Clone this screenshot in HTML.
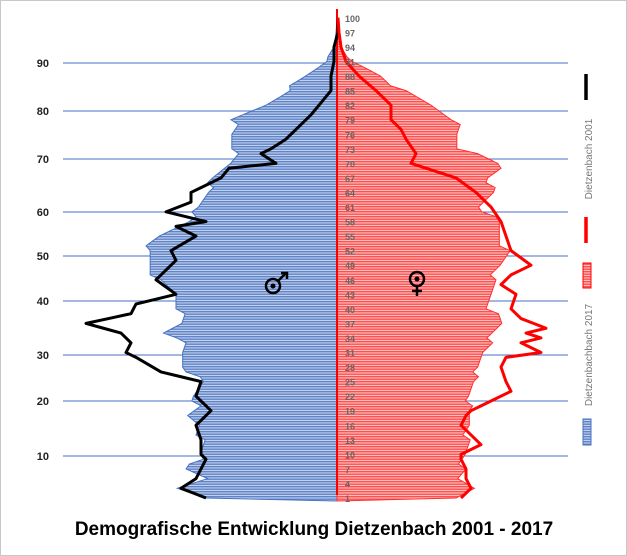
<!DOCTYPE html>
<html><head><meta charset="utf-8"><style>
body{margin:0;background:#fff}
#w{position:relative;width:625px;height:554px;border:1px solid #c8c8c8;overflow:hidden;font-family:"Liberation Sans",sans-serif}
</style></head><body><div id="w">
<svg id="s" width="625" height="554" xmlns="http://www.w3.org/2000/svg">
<defs>
<pattern id="pb" width="4" height="2.5" patternUnits="userSpaceOnUse"><rect width="4" height="2.5" fill="#c3d1ec"/><rect width="4" height="1.4" fill="#5f84c8"/></pattern>
<pattern id="pr" width="4" height="2.5" patternUnits="userSpaceOnUse"><rect width="4" height="2.5" fill="#ffc0c0"/><rect width="4" height="1.4" fill="#ff5050"/></pattern>
</defs>
<g id="grid" stroke="#4472c4" stroke-width="1"></g>
<g id="lab" font-size="11" font-weight="bold" fill="#222"></g>
<g id="pl"></g>
<g id="al" font-size="9" font-weight="bold" fill="#666"></g>
<g stroke="#000" stroke-width="2.5" fill="none">
<circle cx="272" cy="285" r="7"/><path d="M277 280 L284 273 M280 272 L286 272 L286 278"/>
<circle cx="416" cy="278" r="7"/><path d="M416 285 L416 295 M411 290 L421 290"/>
</g>
<circle cx="272" cy="285" r="2.5" fill="#000"/><circle cx="416" cy="278" r="2.5" fill="#000"/>
<line x1="585" y1="73" x2="585" y2="99" stroke="#000" stroke-width="3.5"/>
<text transform="translate(591,158) rotate(-90)" font-size="10" fill="#777" text-anchor="middle">Dietzenbach 2001</text>
<line x1="585" y1="216" x2="585" y2="242" stroke="#f00" stroke-width="3.5"/>
<rect x="582" y="262" width="8" height="25" fill="url(#pr)" stroke="#f00"/>
<text transform="translate(591,354) rotate(-90)" font-size="10" fill="#777" text-anchor="middle">Dietzenbachbach 2017</text>
<rect x="582" y="418" width="8" height="26" fill="url(#pb)" stroke="#4472c4"/>
<text x="313" y="534" font-size="19" font-weight="bold" text-anchor="middle" fill="#000">Demografische Entwicklung Dietzenbach 2001 - 2017</text>
</svg></div>
<script>
var NS="http://www.w3.org/2000/svg";
function Y(a){return 497-(a-1)*4.85;}
function interp(pts){var r=[];for(var a=1;a<=100;a++){var i=0;while(i<pts.length-2&&pts[i+1][0]<a)i++;var p=pts[i],q=pts[i+1];var t=(a-p[0])/(q[0]-p[0]);t=Math.max(0,Math.min(1,t));r.push(p[1]+(q[1]-p[1])*t);}return r;}
function jag(arr,amp,dir){return arr.map(function(v,i){var d=Math.abs(v-336);var j=((i*7919)%13-6)/6*amp*Math.min(1,d/60);return v+j;});}
var blue=jag(interp([[1,210],[3,178],[5,205],[7,180],[9,205],[10,200],[13,200],[16,200],[18,185],[20,195],[22,195],[25,200],[28,185],[31,180],[34,180],[35,165],[37,180],[40,180],[43,175],[46,155],[49,150],[52,145],[55,160],[58,185],[61,200],[64,205],[67,215],[70,228],[73,235],[76,230],[79,235],[82,265],[85,285],[88,305],[91,325],[94,333],[97,335],[100,336]]),5);
var red=jag(interp([[1,460],[3,475],[5,455],[7,460],[10,465],[13,465],[16,470],[19,465],[22,470],[25,470],[28,480],[31,480],[34,490],[37,500],[40,490],[43,490],[46,490],[49,500],[52,505],[55,500],[58,495],[61,480],[64,490],[67,490],[69,500],[70,495],[73,460],[76,455],[79,455],[82,430],[85,400],[88,380],[91,350],[94,340],[97,338],[100,337]]),5);
var bl=interp([[1,205],[3,180],[5,195],[7,200],[9,205],[10,200],[13,200],[16,195],[19,210],[22,195],[25,200],[27,160],[30,135],[31,125],[33,130],[35,120],[37,85],[39,130],[41,135],[43,175],[46,155],[48,165],[50,175],[52,170],[55,195],[57,175],[58,205],[60,165],[62,190],[64,190],[67,220],[69,228],[70,275],[72,260],[73,270],[75,285],[78,300],[80,310],[82,318],[85,330],[88,330],[91,333],[94,333],[97,337],[100,337]]);
var rl=interp([[1,460],[3,470],[5,465],[7,465],[9,460],[10,460],[12,480],[14,470],[16,460],[18,465],[19,470],[21,490],[23,510],[25,505],[28,500],[30,505],[31,540],[33,520],[34,540],[35,525],[36,545],[38,520],[40,510],[43,515],[45,500],[47,510],[49,530],[52,510],[55,505],[58,500],[61,490],[64,475],[67,455],[70,410],[72,415],[75,405],[77,400],[79,390],[82,390],[85,375],[88,358],[91,345],[94,340],[97,338],[100,337]]);
function el(t,at,p){var e=document.createElementNS(NS,t);for(var k in at)e.setAttribute(k,at[k]);document.getElementById(p).appendChild(e);return e;}
[[10,455],[20,400],[30,354],[40,300],[50,255],[60,211],[70,158],[80,110],[90,62]].forEach(function(g){el("line",{x1:62,x2:567,y1:g[1],y2:g[1]},"grid");var t=el("text",{x:48,y:g[1]+4,"text-anchor":"end"},"lab");t.textContent=g[0];});
function poly(arr,fill,stroke){var p="336,"+(Y(1)+3)+" ";for(var i=0;i<100;i++){p+=arr[i]+","+Y(i+1)+" ";}p+="336,"+(Y(100)-2);el("polygon",{points:p,fill:fill,stroke:stroke,"stroke-width":1},"pl");}
poly(blue,"url(#pb)","#4472c4");poly(red,"url(#pr)","#ff3030");
el("line",{x1:336,x2:336,y1:8,y2:494,stroke:"#f00","stroke-width":2},"pl");
function line(arr,c){var p="";for(var i=0;i<100;i++)p+=arr[i]+","+Y(i+1)+" ";el("polyline",{points:p,fill:"none",stroke:c,"stroke-width":3,"stroke-linejoin":"round"},"pl");}
line(bl,"#000");line(rl,"#f00");
for(var a=1;a<=100;a+=3){var t=el("text",{x:344,y:Y(a)+4},"al");t.textContent=a;}
</script>
</body></html>
